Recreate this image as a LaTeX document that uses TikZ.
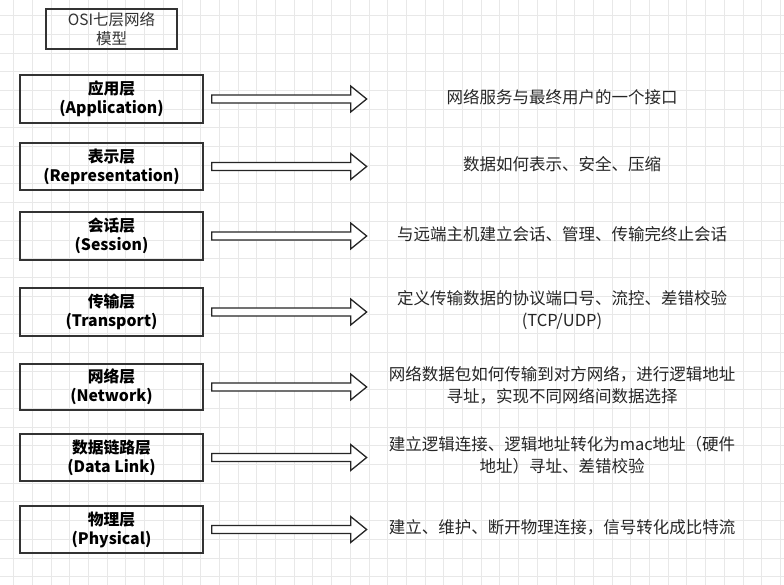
\documentclass[tikz,border=0pt]{standalone}
\usepackage{fontspec}
\setmainfont{Noto Sans CJK SC}
\usetikzlibrary{calc}
\begin{document}
\begin{tikzpicture}[x=1pt,y=-1pt,
  layer/.style={draw=black!80,line width=1.3pt,minimum width=183pt,align=center,font=\bfseries\fontsize{15.8}{19}\selectfont,inner sep=0pt},
  desc/.style={align=center,font=\fontsize{16.5}{22}\selectfont,text=black!85},
  arr/.style={draw=black!85,line width=1.3pt,fill=white}]
\fill[white] (0,0) rectangle (784,585);
\useasboundingbox (0,0) rectangle (784,585);
\foreach \i in {0,...,41} {\draw[black!9,line width=0.6pt] (13.5+\i*18.7,0) -- (13.5+\i*18.7,585);}
\foreach \i in {0,...,31} {\draw[black!9,line width=0.6pt] (0,15.5+\i*18.7) -- (784,15.5+\i*18.7);}
\node[draw=black!80,line width=1.3pt,minimum width=131pt,minimum height=40pt,align=center,font=\fontsize{15.5}{19}\selectfont,text=black!80,inner sep=0pt] (t) at (111.5,29) {OSI七层网络\\模型};
\foreach \n/\y/\h/\a/\b/\d in {
 app/99/48/应用层/(Application)/网络服务与最终用户的一个接口,
 rep/166.5/47/表示层/(Representation)/数据如何表示、安全、压缩,
 ses/236/48/会话层/(Session)/与远端主机建立会话、管理、传输完终止会话,
 tra/312/48/传输层/(Transport)/{定义传输数据的协议端口号、流控、差错校验\\(TCP/UDP)},
 net/387/46/网络层/(Network)/{网络数据包如何传输到对方网络，进行逻辑地址\\寻址，实现不同网络间数据选择},
 dl/457.5/47/数据链路层/(Data Link)/{建立逻辑连接、逻辑地址转化为mac地址（硬件\\地址）寻址、差错校验},
 phy/529.5/47/物理层/(Physical)/建立、维护、断开物理连接，信号转化成比特流}{
 \node[layer,minimum height=\h pt] (\n) at (111.5,\y) {\a\\\b};
 \node[desc,anchor=center] (\n d) at (562,\y-2) {\d};
 \draw[arr] ($(\n.east)+(8,-4)$) -- ++(139,0) -- ++(0,-9) -- ++(16,13) -- ++(-16,13) -- ++(0,-9) -- ++(-139,0) -- cycle;
}
\end{tikzpicture}
\end{document}
